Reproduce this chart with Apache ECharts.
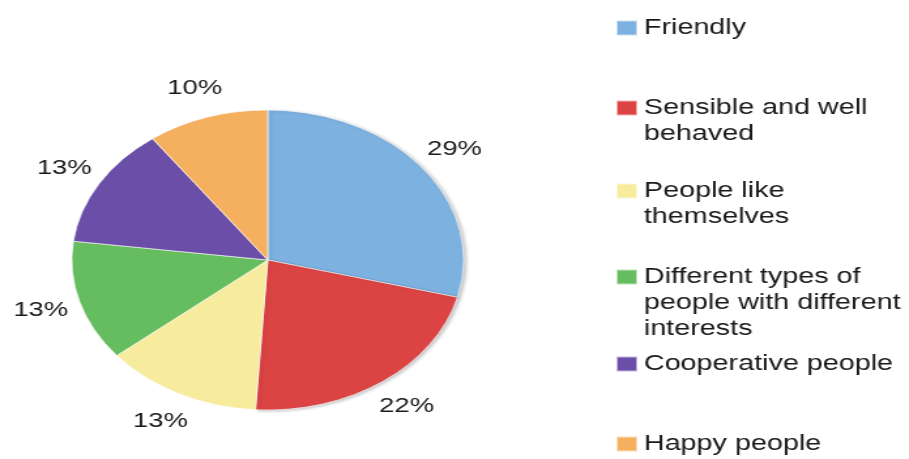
<!DOCTYPE html>
<html>
<head>
<meta charset="utf-8">
<script src="https://cdn.jsdelivr.net/npm/echarts@6/dist/echarts.min.js"></script>
<style>
html, body { margin: 0; padding: 0; background: #fff; overflow: hidden; }
/* the source picture is a pie stretched sideways, so the whole chart is stretched the same way */
#main { width: 696px; height: 459px; transform: scaleX(1.306); transform-origin: 0 0; }
</style>
</head>
<body>
<div id="main"></div>
<script>
var categories = ['Friendly', 'Sensible and well behaved', 'People like themselves',
    'Different types of people with different interests', 'Cooperative people', 'Happy people'];
var legendLines = [
    ['Friendly'],
    ['Sensible and well', 'behaved'],
    ['People like', 'themselves'],
    ['Different types of', 'people with different', 'interests'],
    ['Cooperative people'],
    ['Happy people']
];
var percentValues = [29, 22, 13, 13, 13, 10];
var sliceColors = ['#7db1e0', '#dc4444', '#f7ec9d', '#66bd5f', '#6a4ea8', '#f5b05f'];

var legendTops = [10, 64, 147, 207, 346, 426];

var pieData = categories.map(function (name, i) {
    var st = { color: sliceColors[i] };
    if (i < 2) {
        // faint rim on the right hand side like the source
        st.shadowColor = 'rgba(0,0,0,0.22)';
        st.shadowBlur = 3;
        st.shadowOffsetX = 2;
        st.shadowOffsetY = 1;
    }
    return { name: name, value: percentValues[i], itemStyle: st };
});
var labelData = categories.map(function (name, i) {
    return { name: name, value: percentValues[i] };
});

var legends = categories.map(function (name, i) {
    return {
        data: [name],
        left: 466,
        top: legendTops[i],
        orient: 'vertical',
        icon: 'rect',
        itemWidth: 16,
        itemHeight: 15,
        selectedMode: false,
        formatter: function (nm) {
            var lines = legendLines[categories.indexOf(nm)];
            // blank lines in front keep the square level with the first line
            var pad = [];
            for (var k = 1; k < lines.length; k++) pad.push(' ');
            return pad.concat(lines).join('\n');
        },
        textStyle: {
            fontFamily: 'Liberation Sans',
            fontSize: 22,
            color: '#1a1a1a',
            lineHeight: 26
        }
    };
});

var option = {
    backgroundColor: '#fff',
    animation: false,
    legend: legends,
    series: [
        {
            name: 'share',
            type: 'pie',
            center: [205, 260],
            radius: 150,
            startAngle: 90,
            clockwise: true,
            label: { show: false },
            labelLine: { show: false },
            itemStyle: { borderColor: 'rgba(255,255,255,0.6)', borderWidth: 1 },
            emphasis: { disabled: true },
            data: pieData
        },
        {
            // invisible ring that only carries the percentage labels
            name: 'labels',
            type: 'pie',
            center: [205, 260],
            radius: [150, 206],
            startAngle: 90,
            clockwise: true,
            silent: true,
            itemStyle: { color: 'rgba(0,0,0,0)' },
            label: {
                show: true,
                position: 'inside',
                formatter: '{c}%',
                fontFamily: 'Liberation Sans',
                fontSize: 21,
                color: '#1a1a1a'
            },
            labelLine: { show: false },
            emphasis: { disabled: true },
            data: labelData
        }
    ]
};

var chart = echarts.init(document.getElementById('main'));
chart.setOption(option);
</script>
</body>
</html>
